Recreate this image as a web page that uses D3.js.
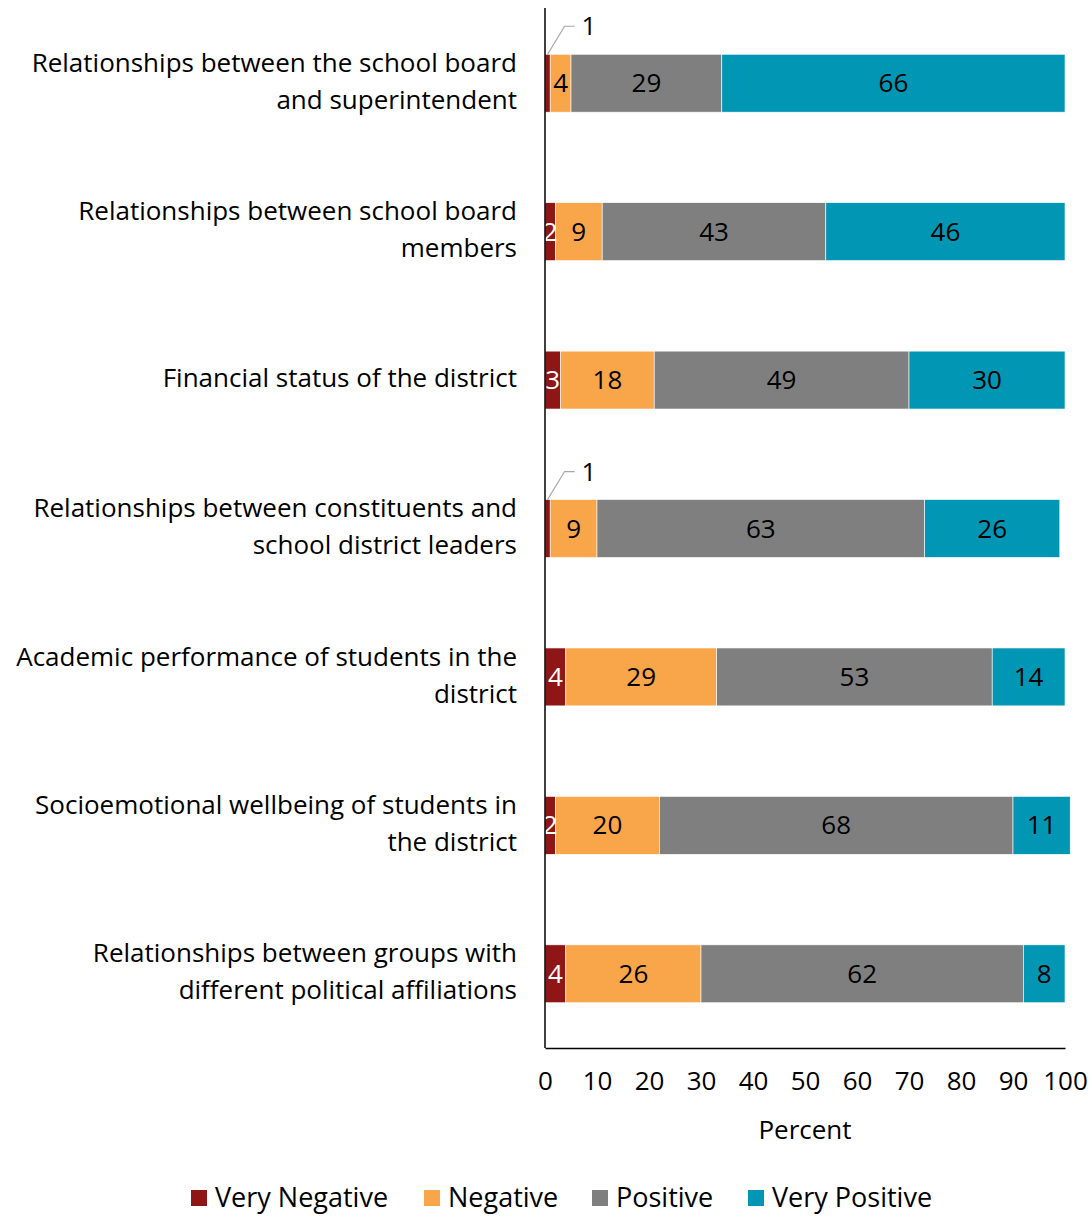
<!DOCTYPE html>
<html>
<head>
<meta charset="utf-8">
<script src="https://cdn.jsdelivr.net/npm/d3@7"></script>
<style>
  html, body { margin: 0; padding: 0; background: #fff; }
  svg text { font-family: "Open Sans", Lato, sans-serif; fill: #000; }
</style>
</head>
<body>
<svg id="chart" width="1092" height="1218"></svg>
<script>
// Survey items, each label split into display lines
const categories = [
  ["Relationships between the school board", "and superintendent"],
  ["Relationships between school board", "members"],
  ["Financial status of the district"],
  ["Relationships between constituents and", "school district leaders"],
  ["Academic performance of students in the", "district"],
  ["Socioemotional wellbeing of students in", "the district"],
  ["Relationships between groups with", "different political affiliations"]
];
const seriesNames = ["Very Negative", "Negative", "Positive", "Very Positive"];
const veryNegative = [1, 2, 3, 1, 4, 2, 4];
const negative     = [4, 9, 18, 9, 29, 20, 26];
const positive     = [29, 43, 49, 63, 53, 68, 62];
const veryPositive = [66, 46, 30, 26, 14, 11, 8];
const xTicks = [0, 10, 20, 30, 40, 50, 60, 70, 80, 90, 100];
const colors = ["#8E1616", "#F9A54A", "#7F7F7F", "#0096B4"];
const labelColors = ["#fff", "#000", "#000", "#000"];

const rows = categories.map((c, i) => ({
  key: i,
  "Very Negative": veryNegative[i],
  "Negative": negative[i],
  "Positive": positive[i],
  "Very Positive": veryPositive[i]
}));
const stacked = d3.stack().keys(seriesNames)(rows);

const svg = d3.select("#chart");
const x = d3.scaleLinear().domain([0, 100]).range([545, 1065]);
const y = d3.scaleBand().domain(d3.range(categories.length)).range([9, 1048]).paddingInner(0.61).paddingOuter(0.305);
const fs = 26;

// stacked segments
const layers = svg.append("g").selectAll("g").data(stacked).join("g")
  .attr("fill", (d, i) => colors[i]);
layers.selectAll("rect").data(d => d).join("rect")
  .attr("x", d => x(d[0]))
  .attr("y", (d, i) => y(i))
  .attr("width", d => x(d[1]) - x(d[0]))
  .attr("height", y.bandwidth())
  .attr("stroke", "#fff")
  .attr("stroke-width", 0.6);

// value labels: inside the segment, or above with a leader line when the segment is too thin
stacked.forEach((layer, si) => {
  layer.forEach((d, i) => {
    const v = d[1] - d[0];
    const cx = x((d[0] + d[1]) / 2);
    const cy = y(i) + y.bandwidth() / 2;
    if (v <= 1) {
      const top = y(i);
      svg.append("polyline")
        .attr("points", [[cx, top], [cx + 17, top - 28], [cx + 27, top - 28]].map(p => p.join(",")).join(" "))
        .attr("fill", "none").attr("stroke", "#A6A6A6").attr("stroke-width", 1.2);
      svg.append("text").attr("x", cx + 34).attr("y", top - 28).attr("dy", "0.35em")
        .attr("font-size", fs).text(v);
    } else {
      svg.append("text").attr("x", cx).attr("y", cy).attr("dy", "0.35em")
        .attr("text-anchor", "middle").attr("font-size", fs)
        .style("fill", labelColors[si]).text(v);
    }
  });
});

// category labels, right aligned against the axis
categories.forEach((lines, i) => {
  const cy = y(i) + y.bandwidth() / 2;
  const lh = 37;
  const t = svg.append("text").attr("text-anchor", "end").attr("font-size", fs);
  lines.forEach((ln, k) => {
    t.append("tspan").attr("x", 517)
      .attr("y", cy - 2 + (k - (lines.length - 1) / 2) * lh)
      .attr("dy", "0.35em").text(ln);
  });
});

// axes
const xAxis = svg.append("g").attr("transform", "translate(0,1048)")
  .call(d3.axisBottom(x).tickValues(xTicks).tickSize(0).tickPadding(24));
xAxis.select(".domain").attr("stroke", "#000").attr("stroke-width", 1.5);
xAxis.selectAll("text").attr("font-size", fs).attr("font-family", null);
svg.append("line").attr("x1", 545).attr("x2", 545).attr("y1", 8).attr("y2", 1048)
  .attr("stroke", "#000").attr("stroke-width", 1.5);

svg.append("text").attr("x", 805).attr("y", 1130).attr("dy", "0.35em")
  .attr("text-anchor", "middle").attr("font-size", fs).text("Percent");

// legend
const legendX = [191, 424, 592, 748];
seriesNames.forEach((name, i) => {
  const g = svg.append("g").attr("transform", `translate(${legendX[i]},1198)`);
  g.append("rect").attr("x", 0).attr("y", -8).attr("width", 16).attr("height", 16).attr("fill", colors[i]);
  g.append("text").attr("x", 24).attr("y", 0).attr("dy", "0.35em").attr("font-size", 27).text(name);
});
</script>
</body>
</html>
